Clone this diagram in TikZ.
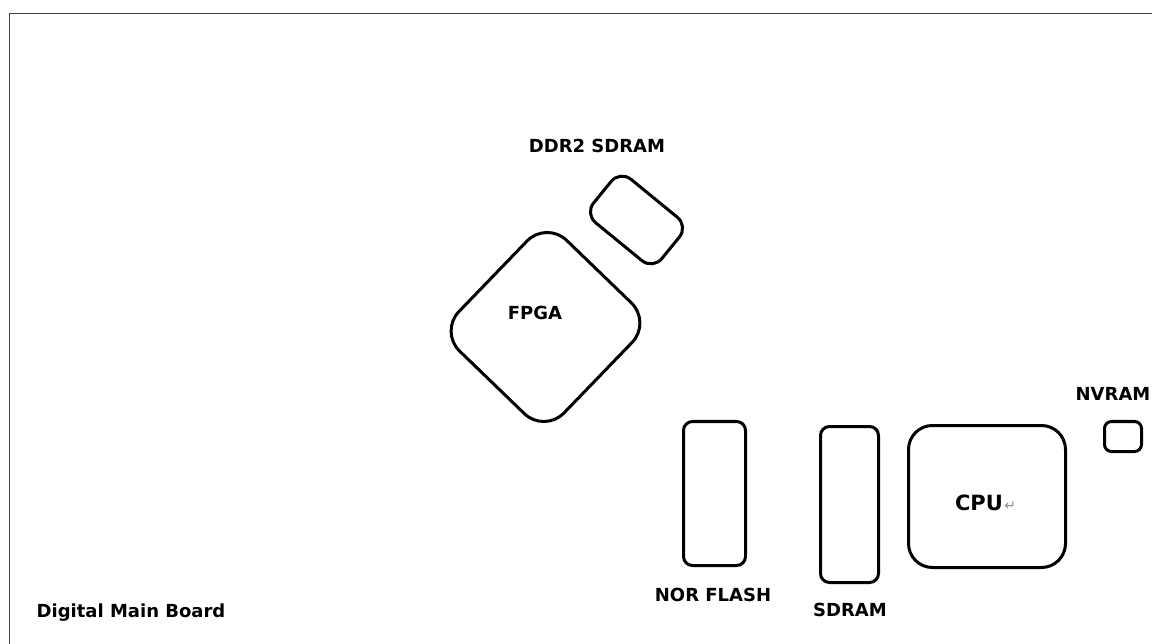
\documentclass[tikz,border=0pt]{standalone}
\usepackage{fontspec}
\setmainfont{DejaVu Sans}
\usetikzlibrary{positioning}
\begin{document}
\begin{tikzpicture}[x=1pt,y=-1pt,
    chip/.style={draw, line width=3pt, rounded corners=#1, inner sep=0pt},
    chip/.default=9pt,
    lbl/.style={font=\fontsize{18}{21}\selectfont\bfseries, inner sep=0pt}]
    \useasboundingbox (0,0) rectangle (1152,644);
    % board outline
    \draw[line width=1.8pt, black!75] (9.5,13.5) rectangle (1175,665);
    % parts
    \node[chip=14pt, minimum width=88pt, minimum height=56pt, rotate=-39.3] (ddr) at (636.5,220) {};
    \node[chip=28pt, minimum width=146pt, minimum height=154pt, rotate=-44] (fpga) at (545.5,327) {};
    \node[chip, minimum width=62pt, minimum height=144pt] (nor) at (714.5,493.5) {};
    \node[chip, minimum width=58pt, minimum height=156pt] (sdram) at (849.5,504.5) {};
    \node[chip=24pt, minimum width=157pt, minimum height=142pt] (cpu) at (987,496.5) {};
    \node[chip=7pt, minimum width=37pt, minimum height=30pt] (nvram) at (1123,436.5) {};
    % labels
    \node[lbl] (ddrlabel) at (597,146) {DDR2 SDRAM};
    \node[lbl] (fpgalabel) at (535,313) {FPGA};
    \node[lbl] (norlabel) at (713,595) {NOR FLASH};
    \node[lbl] (sdramlabel) at (850,610) {SDRAM};
    \node[lbl] (nvramlabel) at (1113,394) {NVRAM};
    \node[lbl] (boardlabel) at (131,613) {Digital Main Board};
    \node[lbl, font=\fontsize{21}{24}\selectfont\bfseries] (cpulabel) at (979,503) {CPU};
    \node[inner sep=0pt, font=\fontsize{14}{16}\selectfont, text=black!45, anchor=base west]
        (cpumark) at ([xshift=1pt]cpulabel.base east) {↵};
\end{tikzpicture}
\end{document}
